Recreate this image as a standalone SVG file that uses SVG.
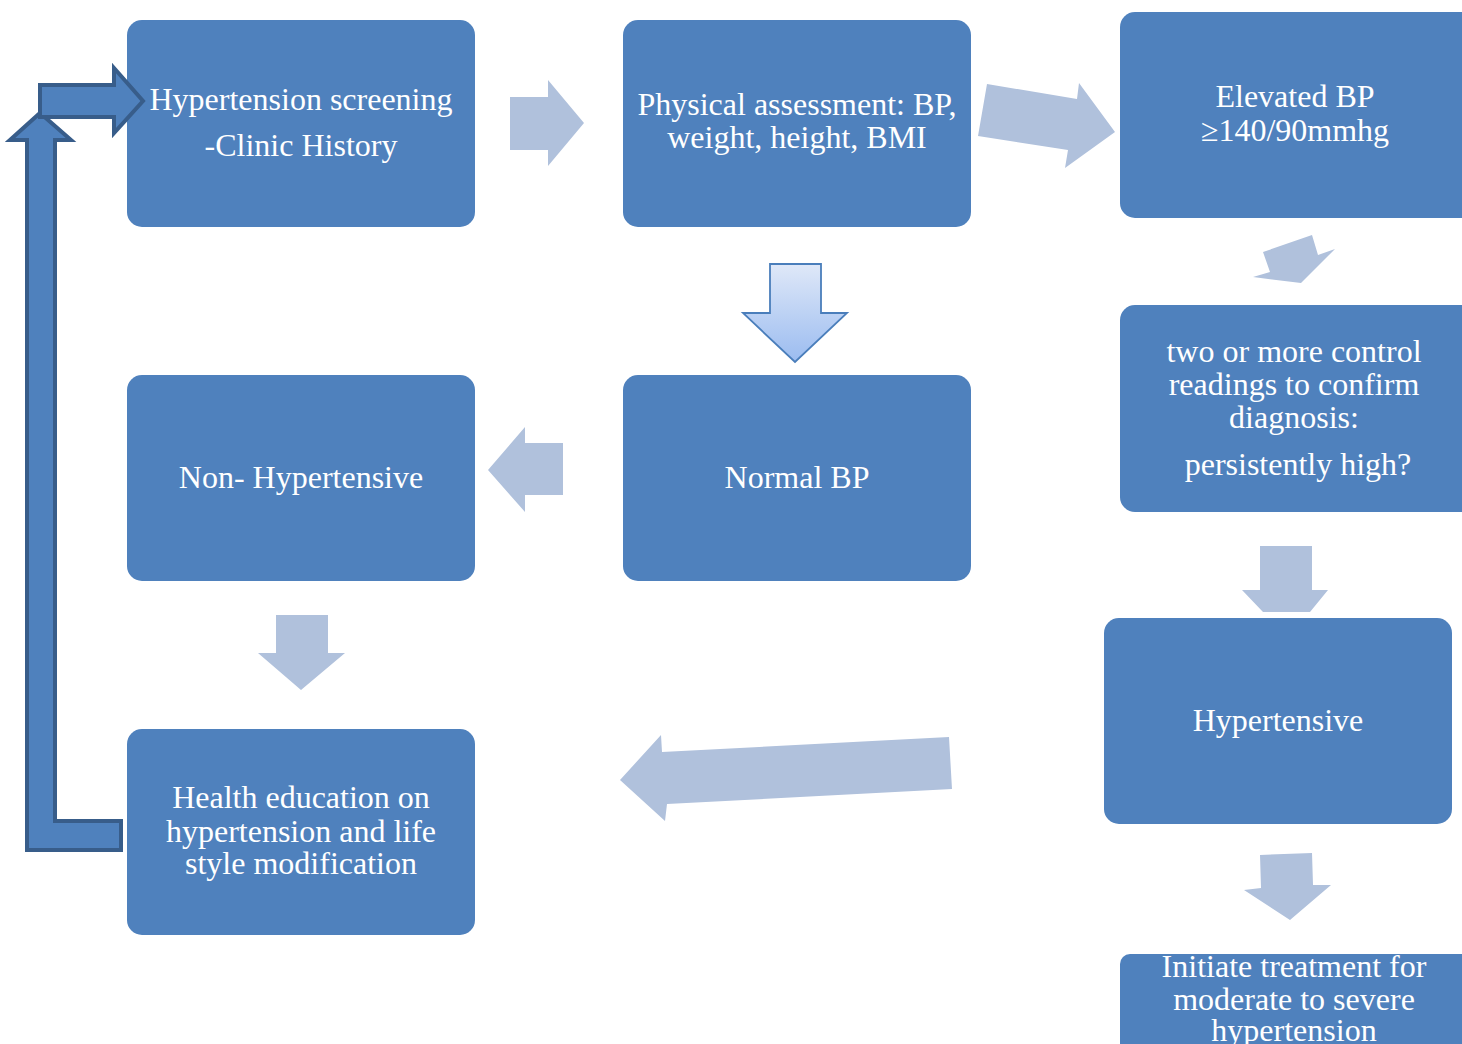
<svg xmlns="http://www.w3.org/2000/svg" width="1462" height="1044" viewBox="0 0 1462 1044">
<defs>
<linearGradient id="gdown" x1="0" y1="0" x2="0" y2="1">
<stop offset="0" stop-color="#dfe8f8"/>
<stop offset="1" stop-color="#9bbcf0"/>
</linearGradient>
<style>
.box{fill:#4f81bd;}
.t{font-family:"Liberation Serif","Times New Roman",serif;font-size:32px;fill:#ffffff;text-anchor:middle;}
.arr{fill:#b0c1dc;}
.bent{fill:#4f81bd;stroke:#385d8a;stroke-width:4;stroke-linejoin:miter;}
</style>
</defs>
<rect width="1462" height="1044" fill="#ffffff"/>

<g id="node1"><rect class="box" x="127" y="20" width="348" height="207" rx="15"/>
<text class="t" x="301" y="110">Hypertension screening</text>
<text class="t" x="301" y="156">-Clinic History</text></g>

<g id="node2"><rect class="box" x="623" y="20" width="348" height="207" rx="15"/>
<text class="t" x="797" y="115">Physical assessment: BP,</text>
<text class="t" x="797" y="148">weight, height, BMI</text></g>

<g id="node3"><rect class="box" x="1120" y="12" width="360" height="206" rx="15"/>
<text class="t" x="1295" y="107">Elevated BP</text>
<text class="t" x="1295" y="141">≥140/90mmhg</text></g>

<g id="node4"><rect class="box" x="1120" y="305" width="360" height="207" rx="15"/>
<text class="t" x="1294" y="362">two or more control</text>
<text class="t" x="1294" y="395">readings to confirm</text>
<text class="t" x="1294" y="428">diagnosis:</text>
<text class="t" x="1298" y="475">persistently high?</text></g>

<g id="node5"><rect class="box" x="127" y="375" width="348" height="206" rx="15"/>
<text class="t" x="301" y="488">Non- Hypertensive</text></g>

<g id="node6"><rect class="box" x="623" y="375" width="348" height="206" rx="15"/>
<text class="t" x="797" y="488">Normal BP</text></g>

<g id="node7"><rect class="box" x="1104" y="618" width="348" height="206" rx="15"/>
<text class="t" x="1278" y="731">Hypertensive</text></g>

<g id="node8"><rect class="box" x="127" y="729" width="348" height="206" rx="15"/>
<text class="t" x="301" y="808">Health education on</text>
<text class="t" x="301" y="842">hypertension and life</text>
<text class="t" x="301" y="874">style modification</text></g>

<g id="node9"><rect class="box" x="1120" y="954" width="360" height="120" rx="10"/>
<text class="t" x="1294" y="977">Initiate treatment for</text>
<text class="t" x="1294" y="1010">moderate to severe</text>
<text class="t" x="1294" y="1041">hypertension</text></g>

<g id="connectors">
<polygon class="arr" points="510,97 548,97 548,80 584,123 548,166 548,150 510,150"/>
<polygon class="arr" points="987,84 1077,99 1079,83 1115,132 1065,168 1068,150 978,136"/>
<polygon points="770,264 821,264 821,313 847,313 795,362 743,313 770,313" fill="url(#gdown)" stroke="#4a7ebb" stroke-width="1.8"/>
<polygon class="arr" points="1263,252 1312,235 1318,255 1335,249 1301,283 1253,277 1270,272"/>
<polygon class="arr" points="563,443 525,443 525,427 488,470 525,512 525,495 563,495"/>
<polygon class="arr" points="276,615 328,615 328,653 345,653 301,690 258,653 276,653"/>
<polygon class="arr" points="949,737 952,789 667,804 665,821 620,780 661,735 662,752"/>
<polygon class="arr" points="1260,546 1312,546 1312,590 1328,590 1310,612 1263,612 1242,590 1260,590"/>
<polygon class="arr" points="1260,855 1312,853 1313,885 1331,885 1290,920 1244,890 1261,888"/>
<polygon class="bent" points="121,821 121,850 27,850 27,140 10,140 40,113 71,140 55,140 55,821"/>
<polygon class="bent" points="40,85 114,85 114,68 143,101 114,133 114,117 40,117"/>
</g>
</svg>
